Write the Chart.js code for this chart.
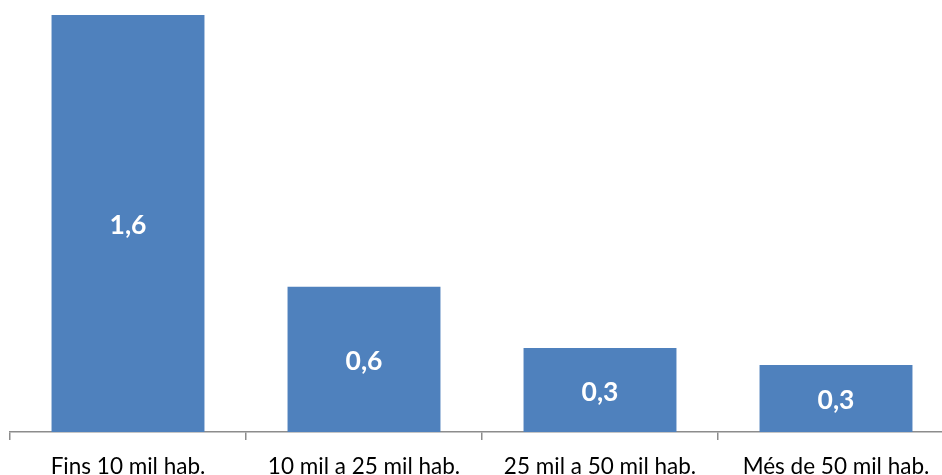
<!DOCTYPE html>
<html>
<head>
<meta charset="utf-8">
<script src="https://cdn.jsdelivr.net/npm/chart.js@4/dist/chart.umd.min.js"></script>
<style>
    html, body { margin: 0; padding: 0; background: #fff; overflow: hidden; }
    #wrap { width: 960px; height: 493px; position: relative; }
</style>
</head>
<body>
<div id="wrap"><canvas id="chart"></canvas></div>
<script>
const categories = ['Fins 10 mil hab.', '10 mil a 25 mil hab.', '25 mil a 50 mil hab.', 'Més de 50 mil hab.'];
const values = [1.6, 0.557, 0.322, 0.257];
const yMax = 1.6;

// Draws the value in the middle of each bar, Catalan style decimal comma
const barLabels = {
    id: 'barLabels',
    afterDatasetsDraw(chart) {
        const ctx = chart.ctx;
        const meta = chart.getDatasetMeta(0);
        ctx.save();
        ctx.fillStyle = '#ffffff';
        ctx.font = 'bold 26.5px Lato';
        ctx.textAlign = 'center';
        ctx.textBaseline = 'middle';
        meta.data.forEach((bar, i) => {
            const { x, y, base } = bar.getProps(['x', 'y', 'base'], true);
            const text = values[i].toFixed(1).replace('.', ',');
            ctx.fillText(text, x, (y + base) / 2 + 2);
        });
        ctx.restore();
    }
};

new Chart(document.getElementById('chart'), {
    type: 'bar',
    data: {
        labels: categories,
        datasets: [{
            data: values,
            backgroundColor: '#4f81bd',
            borderWidth: 0,
            barPercentage: 0.648,
            categoryPercentage: 1
        }]
    },
    options: {
        responsive: true,
        maintainAspectRatio: false,
        animation: false,
        layout: { padding: { left: 10, right: 6, top: 15, bottom: 0 } },
        plugins: {
            legend: { display: false },
            tooltip: { enabled: false }
        },
        scales: {
            x: {
                grid: {
                    display: true,
                    drawOnChartArea: false,
                    drawTicks: true,
                    tickLength: 8,
                    offset: true,
                    color: '#8c8c8c',
                    lineWidth: 1.5
                },
                border: { display: true, color: '#8c8c8c', width: 1.5 },
                ticks: {
                    color: '#000000',
                    font: { family: 'Lato', size: 22.5 },
                    padding: 13,
                    maxRotation: 0,
                    autoSkip: false
                }
            },
            y: {
                display: false,
                min: 0,
                max: yMax
            }
        }
    },
    plugins: [barLabels]
});
</script>
</body>
</html>
